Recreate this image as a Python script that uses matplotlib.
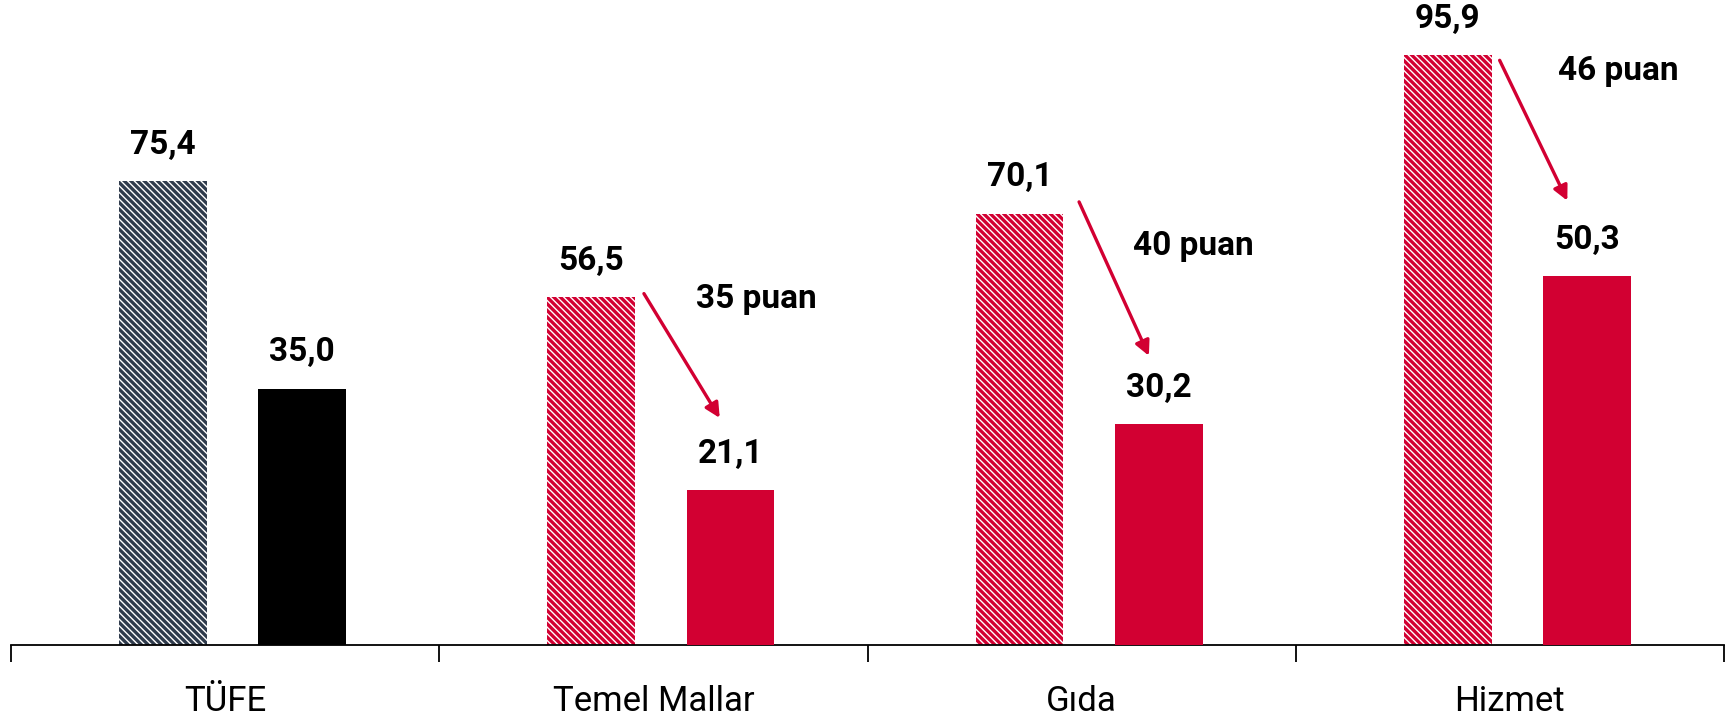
import matplotlib
matplotlib.use("Agg")
import matplotlib.pyplot as plt
import matplotlib.transforms as mtransforms
import numpy as np

plt.rcParams["font.family"] = ["Roboto", "DejaVu Sans"]
plt.rcParams["hatch.linewidth"] = 1.0

categories = ["TÜFE", "Temel Mallar", "Gıda", "Hizmet"]
before = [75.4, 56.5, 70.1, 95.9]   # hatched bars (left axis)
after = [35.0, 21.1, 30.2, 50.3]    # solid bars (right axis)
before_lbl = ["75,4", "56,5", "70,1", "95,9"]
after_lbl = ["35,0", "21,1", "30,2", "50,3"]

# drop annotations: (text, text pos, arrow start, arrow end) in left-axis units
drops = [
    ("35 puan", (1.241, 56.3), (0.978, 57.1), (1.155, 36.9)),
    ("40 puan", (2.260, 64.9), (1.994, 72.0), (2.157, 47.0)),
    ("46 puan", (3.253, 93.2), (2.976, 95.0), (3.134, 72.2)),
]

RED = "#D20032"
NAVY = "#2F3B4C"
hatch_fc = [NAVY, RED, RED, RED]
solid_fc = ["black", RED, RED, RED]

fig = plt.figure(figsize=(17.35, 7.24), dpi=100)
ax = fig.add_axes([0.0063, 0.109, 0.9874, 0.891])
ax2 = ax.twinx()

x = np.arange(len(categories))
w = 0.205
off_l, off_r = -0.145, 0.18

for i in x:
    ax.bar(i + off_l, before[i], w, color=hatch_fc[i], edgecolor="white",
           linewidth=0, hatch="\\" * 5)
    ax.annotate(before_lbl[i], (i + off_l, before[i]), xytext=(0, 26),
                textcoords="offset points", ha="center", va="center",
                fontsize=24, fontweight="bold")
    ax2.bar(i + off_r, after[i], w, color=solid_fc[i], linewidth=0)
    ax2.annotate(after_lbl[i], (i + off_r, after[i]), xytext=(0, 26),
                 textcoords="offset points", ha="center", va="center",
                 fontsize=24, fontweight="bold")

for txt, tpos, a0, a1 in drops:
    ax.annotate("", xy=a1, xytext=a0,
                arrowprops=dict(arrowstyle="-|>", color=RED, lw=2.4,
                                mutation_scale=22, shrinkA=0, shrinkB=0))
    ax.text(tpos[0], tpos[1], txt, ha="center", va="center",
            fontsize=24, fontweight="bold")

ax.set_xlim(-0.5, len(categories) - 0.5)
ax.set_ylim(0, 104.8)
ax2.set_ylim(0, 88)

for a in (ax, ax2):
    for s in ("top", "right", "left"):
        a.spines[s].set_visible(False)
    a.set_yticks([])
ax2.spines["bottom"].set_visible(False)
ax.spines["bottom"].set_linewidth(1.3)

ax.set_xticks(np.arange(len(categories) + 1) - 0.5)
ax.set_xticklabels([])
ax.tick_params(axis="x", which="major", direction="out", length=12, width=1.3)

trans = mtransforms.blended_transform_factory(ax.transData, ax.transAxes)
for i, c in enumerate(categories):
    ax.text(i, -0.088, c, transform=trans, ha="center", va="center", fontsize=25)

fig.savefig("out.png", dpi=100)
